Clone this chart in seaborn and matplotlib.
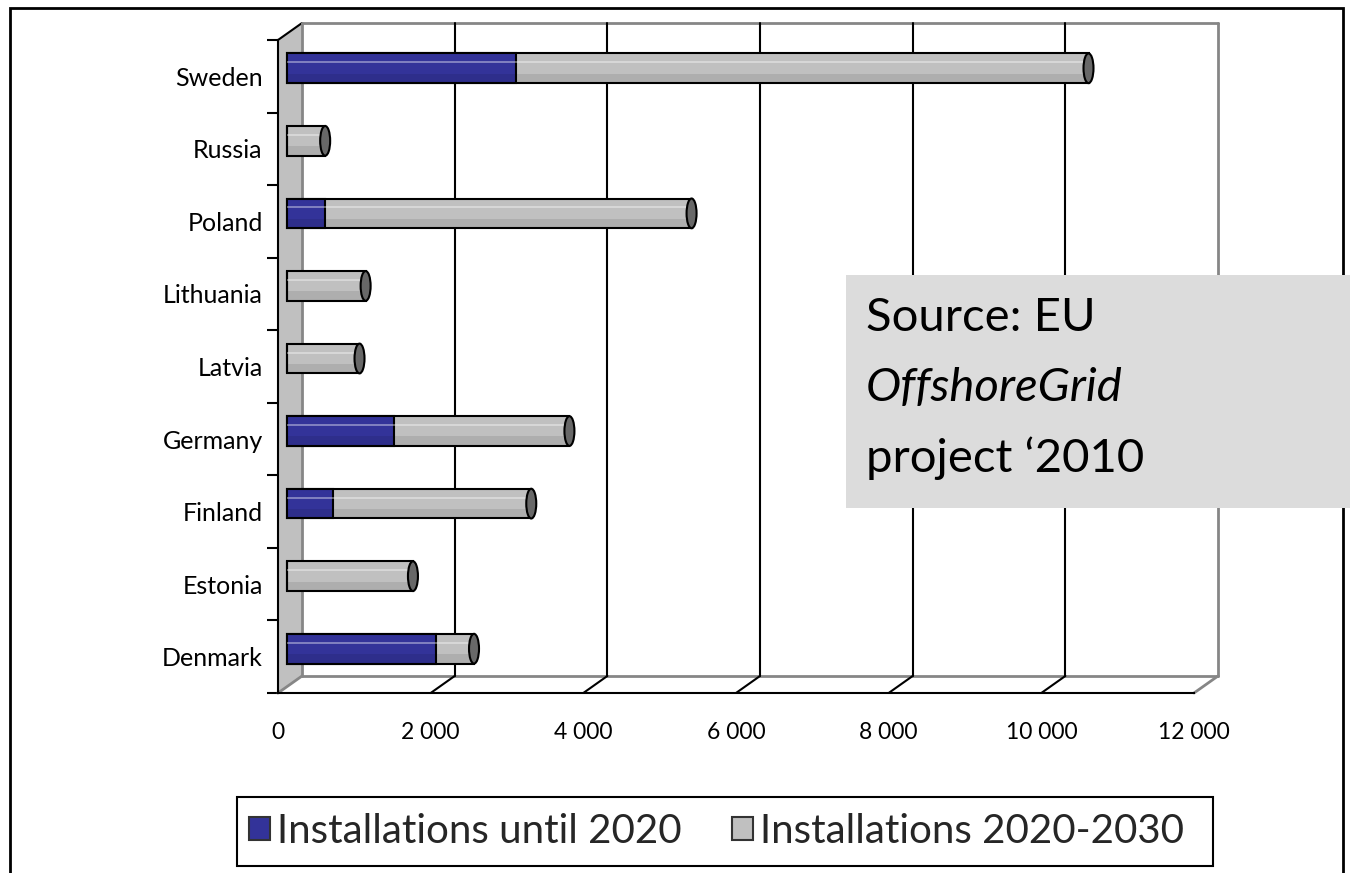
import numpy as np
import pandas as pd
import matplotlib
matplotlib.use("Agg")
import matplotlib.pyplot as plt
import seaborn as sns
from matplotlib.patches import Rectangle, Polygon, Ellipse, Patch
from matplotlib.transforms import Affine2D

# ---------------- data ----------------
countries = ["Sweden", "Russia", "Poland", "Lithuania", "Latvia",
             "Germany", "Finland", "Estonia", "Denmark"]
until_2020 = [3000, 0, 500, 0, 0, 1400, 600, 0, 1950]
period_2020_2030 = [7500, 500, 4800, 1030, 950, 2300, 2600, 1650, 500]
x_ticks = [0, 2000, 4000, 6000, 8000, 10000, 12000]
x_tick_labels = ["0", "2 000", "4 000", "6 000", "8 000", "10 000", "12 000"]
series_names = ["Installations until 2020", "Installations 2020-2030"]
source_lines = ["Source: EU", "OffshoreGrid", "project \u20182010"]

totals = [a + b for a, b in zip(until_2020, period_2020_2030)]

# ---------------- style ----------------
BLUE = "#333399"
GRAY = "#c0c0c0"
CAP = "#686868"
WALLGRAY = "#868686"
W, H = 1350, 873

sns.set_style("white")
plt.rcParams["font.family"] = ["Lato", "DejaVu Sans"]

fig = plt.figure(figsize=(W / 100, H / 100), dpi=100)


def fx(px):
    return px / W


def fy(py):
    return 1 - py / H


ax = fig.add_axes([fx(278), fy(693), fx(1194) - fx(278), fy(40) - fy(693)])

df = pd.DataFrame({"country": countries, "total": totals, "early": until_2020})
BW = 0.41
sns.barplot(data=df, x="total", y="country", color=GRAY, saturation=1,
            width=BW, edgecolor="black", linewidth=1.5, errorbar=None,
            orient="h", ax=ax, zorder=4)
sns.barplot(data=df, x="early", y="country", color=BLUE, saturation=1,
            width=BW, edgecolor="black", linewidth=1.5, errorbar=None,
            orient="h", ax=ax, zorder=4)

ax.set_xlim(0, 12000)
ax.set_ylim(8.5, -0.5)

# offsets (data units) for the pseudo-3D depth
px_per_x = 916 / 12000.0
px_per_y = 653 / 9.0
DX = 9 / px_per_x
DY = -8 / px_per_y
BX = 24 / px_per_x
BY = 17 / px_per_y

bar_tr = Affine2D().translate(DX, DY) + ax.transData
for p in ax.patches:
    p.set_transform(bar_tr)
    p.set_clip_on(False)

# cylinder shading & end caps
ypos = np.arange(len(countries))
for i, (tot, early) in enumerate(zip(totals, until_2020)):
    hb = BW * 0.32
    ax.barh(i + BW / 2 - hb / 2, tot, height=hb, color="black", alpha=0.09,
            linewidth=0, transform=bar_tr, zorder=5, clip_on=False)
    ax.hlines(i - BW * 0.2, 0, tot, colors="white", alpha=0.45, linewidth=1.2,
              transform=bar_tr, zorder=5, clip_on=False)
    ax.add_patch(Ellipse((tot, i), width=10 / px_per_x, height=BW,
                         facecolor=CAP, edgecolor="black", linewidth=1.5,
                         transform=bar_tr, zorder=6, clip_on=False))

# left wall
top_f, bot_f = -0.5, 8.5
top_b, bot_b = top_f - BY, bot_f - BY
ax.add_patch(Polygon([(0, top_f), (BX, top_b), (BX, bot_b), (0, bot_f)],
                     closed=True, facecolor=GRAY, edgecolor="none",
                     zorder=1, clip_on=False))
ax.plot([0, BX], [top_f, top_b], color="black", lw=1.5, zorder=2, clip_on=False)
ax.plot([BX, BX], [top_b, bot_b], color=WALLGRAY, lw=2, zorder=2, clip_on=False)
ax.plot([0, BX], [bot_f, bot_b], color=WALLGRAY, lw=2, zorder=2, clip_on=False)

# back wall
xmax = x_ticks[-1]
ax.plot([BX, xmax + BX], [top_b, top_b], color=WALLGRAY, lw=2, zorder=2, clip_on=False)
ax.plot([xmax + BX, xmax + BX], [top_b, bot_b], color=WALLGRAY, lw=2, zorder=2, clip_on=False)
ax.plot([BX, xmax + BX], [bot_b, bot_b], color=WALLGRAY, lw=2, zorder=2, clip_on=False)
for xv in x_ticks[1:-1]:
    ax.plot([xv + BX, xv + BX], [top_b, bot_b], color="black", lw=1.5, zorder=2, clip_on=False)
    ax.plot([xv, xv + BX], [bot_f, bot_b], color="black", lw=1.5, zorder=2, clip_on=False)
ax.plot([xmax, xmax + BX], [bot_f, bot_b], color=WALLGRAY, lw=2, zorder=2, clip_on=False)

# axes decoration
for s in ["top", "right"]:
    ax.spines[s].set_visible(False)
for s in ["left", "bottom"]:
    ax.spines[s].set_color("black")
    ax.spines[s].set_linewidth(1.5)
    ax.spines[s].set_zorder(3)
ax.set_xticks(x_ticks, x_tick_labels)
ax.tick_params(axis="x", direction="out", length=8, width=1.5, pad=13,
               labelsize=16.5, colors="black")
ax.set_yticks(ypos, countries)
ax.set_yticks(np.arange(-0.5, len(countries), 1.0), minor=True)
ax.tick_params(axis="y", which="major", length=0, pad=11, labelsize=18,
               colors="black")
ax.tick_params(axis="y", which="minor", direction="out", length=8, width=1.5,
               colors="black", left=True)
ax.set_xlabel("")
ax.set_ylabel("")
ax.grid(False)

# outer border
fig.add_artist(Rectangle((fx(10), fy(890)), fx(1343) - fx(10), fy(8) - fy(890),
                         transform=fig.transFigure, fill=False,
                         edgecolor="black", linewidth=2, zorder=1, clip_on=False))

# source box
fig.add_artist(Rectangle((fx(846), fy(508)), fx(1350) - fx(846), fy(275) - fy(508),
                         transform=fig.transFigure, facecolor="#dcdcdc",
                         edgecolor="none", zorder=10))
styles = ["normal", "italic", "normal"]
for k, (line, st) in enumerate(zip(source_lines, styles)):
    fig.text(fx(866), fy(318 + 70 * k), line, fontsize=34, fontstyle=st,
             fontweight="normal", va="center", ha="left", color="black",
             zorder=11)

# legend (frame drawn separately)
fig.add_artist(Rectangle((fx(237), fy(866)), fx(1213) - fx(237), fy(797) - fy(866),
                         transform=fig.transFigure, facecolor="white",
                         edgecolor="black", linewidth=1.5, zorder=8))
handles = [Patch(facecolor=BLUE, edgecolor="#333333", linewidth=1.5),
           Patch(facecolor=GRAY, edgecolor="#333333", linewidth=1.5)]
leg = fig.legend(handles, series_names, loc="center left",
                 bbox_to_anchor=(fx(241), fy(831.5)),
                 ncol=2, fontsize=29, frameon=False,
                 handlelength=0.52, handleheight=0.52,
                 handletextpad=0.17, borderpad=0.2, columnspacing=1.25,
                 borderaxespad=0)
leg.set_zorder(9)

fig.savefig("out.png", dpi=100, facecolor="white")
